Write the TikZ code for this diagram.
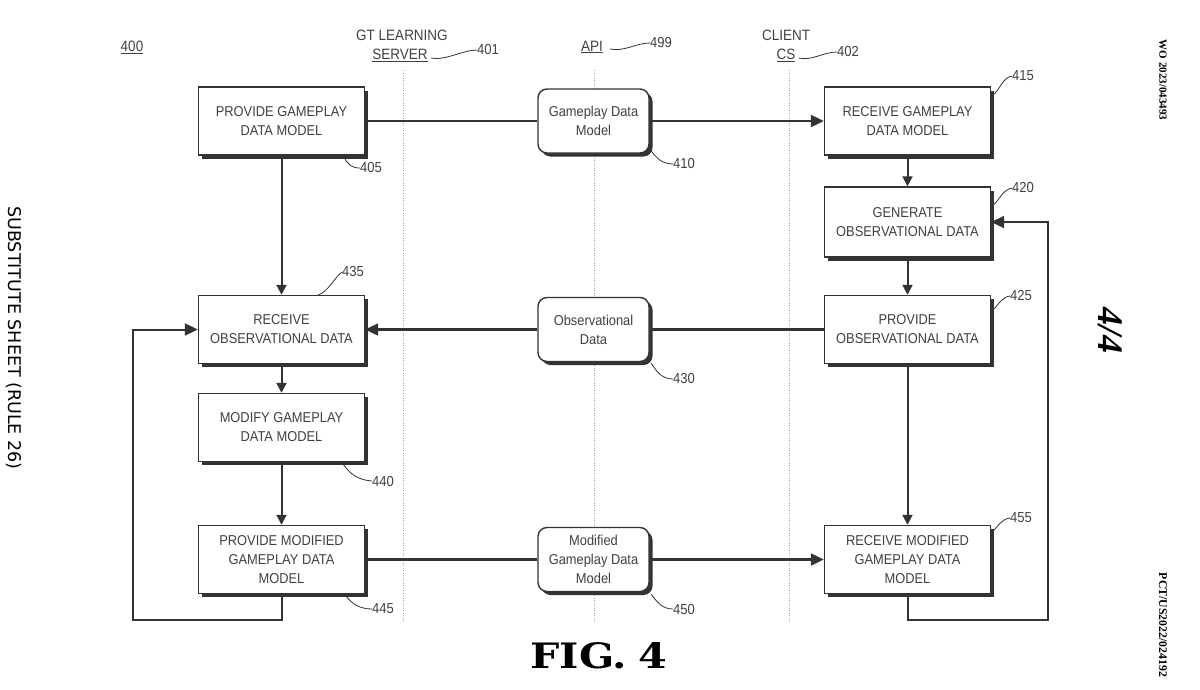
\documentclass[tikz,border=0pt]{standalone}
\usepackage{fontspec}
\setmainfont{Liberation Sans}[FakeStretch=0.9]
\newfontfamily\figfont{DejaVu Serif}[FakeStretch=1.18]
\newfontfamily\sidefont{DejaVu Sans}
\newfontfamily\pubfont{Liberation Serif}
\usetikzlibrary{arrows.meta,shadows}
\definecolor{ink}{HTML}{333333}
\definecolor{txt}{HTML}{404040}
\tikzset{
  every node/.style={text=txt},
  boxfont/.style={font=\fontsize{14.3}{19}\selectfont},
  procbox/.style={draw=ink, line width=1.4pt, fill=white, minimum width=166pt,
    minimum height=68pt, align=center, boxfont,
    drop shadow={shadow xshift=3.5pt, shadow yshift=-3.5pt, fill=ink, opacity=1}},
  apibox/.style={procbox, rounded corners=9pt, minimum width=111pt, minimum height=64pt},
  conn/.style={draw=ink, line width=2.2pt},
  harrow/.style={conn, -{Triangle[length=13pt,width=12pt]}},
  varrow/.style={conn, line width=2pt, -{Triangle[length=10pt,width=10pt]}},
  loopline/.style={draw=ink, line width=2pt},
  lane/.style={draw=gray!70, line width=0.6pt, dash pattern=on 1pt off 1.5pt},
  lead/.style={draw=ink, line width=0.8pt},
  reflabel/.style={font=\fontsize{14.5}{16}\selectfont, inner sep=0pt, anchor=west},
  headlabel/.style={font=\fontsize{15}{17}\selectfont, inner sep=0pt},
}
\begin{document}
\begin{tikzpicture}[x=1pt,y=-1pt]
\useasboundingbox (0,0) rectangle (1200,689);

% lanes
\coordinate (l1t) at (403,70); \coordinate (l1b) at (403,622);
\coordinate (l2t) at (594,70); \coordinate (l2b) at (594,622);
\coordinate (l3t) at (789,70); \coordinate (l3b) at (789,622);
\draw[lane] (l1t) -- (l1b);
\draw[lane] (l2t) -- (l2b);
\draw[lane] (l3t) -- (l3b);

% header
\node[headlabel] (h400) at (132,47) {\underline{400}};
\node[headlabel] (hgt) at (402,35) {GT LEARNING};
\node[headlabel] (hsrv) at (400,55) {\underline{SERVER}};
\node[reflabel] (h401) at (477,50) {401};
\draw[lead] (hsrv.east) ++(3,3) .. controls +(14,3) and +(-14,0) .. (h401.west);
\node[headlabel] (hapi) at (592,47) {\underline{API}};
\node[reflabel] (h499) at (650,43) {499};
\draw[lead] (hapi.east) ++(7,2) .. controls +(14,3) and +(-14,0) .. (h499.west);
\node[headlabel] (hcl) at (786,35) {CLIENT};
\node[headlabel] (hcs) at (786,55) {\underline{CS}};
\node[reflabel] (h402) at (837,52) {402};
\draw[lead] (hcs.east) ++(3,3) .. controls +(14,3) and +(-14,0) .. (h402.west);

% boxes
\node[procbox] (b405) at (281.5,121) {PROVIDE GAMEPLAY\\DATA MODEL};
\node[apibox]  (b410) at (593.5,121) {Gameplay Data\\Model};
\node[procbox] (b415) at (907.5,121) {RECEIVE GAMEPLAY\\DATA MODEL};
\node[procbox, minimum height=70pt] (b420) at (907.5,222) {GENERATE\\OBSERVATIONAL DATA};
\node[procbox] (b435) at (281.5,329.5) {RECEIVE\\OBSERVATIONAL DATA};
\node[apibox]  (b430) at (593.5,329.5) {Observational\\Data};
\node[procbox] (b425) at (907.5,329.5) {PROVIDE\\OBSERVATIONAL DATA};
\node[procbox] (b440) at (281.5,427.5) {MODIFY GAMEPLAY\\DATA MODEL};
\node[procbox] (b445) at (281.5,559.5) {PROVIDE MODIFIED\\GAMEPLAY DATA\\MODEL};
\node[apibox]  (b450) at (593.5,559.5) {Modified\\Gameplay Data\\Model};
\node[procbox] (b455) at (907.5,559.5) {RECEIVE MODIFIED\\GAMEPLAY DATA\\MODEL};

% horizontal connectors
\draw[conn] (b405) -- (b410);
\draw[harrow] (b410) -- (b415);
\draw[conn] (b425) -- (b430);
\draw[harrow] (b430) -- (b435);
\draw[conn] (b445) -- (b450);
\draw[harrow] (b450) -- (b455);

% vertical connectors
\draw[varrow] (b405) -- (b435);
\draw[varrow] (b435) -- (b440);
\draw[varrow] (b440) -- (b445);
\draw[varrow] (b415) -- (b420);
\draw[varrow] (b420) -- (b425);
\draw[varrow] (b425) -- (b455);

% feedback loops
\coordinate (rb) at (1048,620);
\coordinate (lb) at (133,620);
\draw[loopline, -{Triangle[length=13pt,width=12pt]}] (b455.south) |- (rb) |- (b420.east);
\draw[loopline, -{Triangle[length=13pt,width=12pt]}] (b445.south) |- (lb) |- (b435.west);

% reference labels with leaders
\node[reflabel] (r405) at (360,168) {405};
\draw[lead] (344,157) .. controls (348,165) and (352,168) .. (r405.west);
\node[reflabel] (r410) at (673,164) {410};
\draw[lead] (650,149) .. controls (656,158) and (662,164) .. (r410.west);
\node[reflabel] (r415) at (1012,76) {415};
\draw[lead] (993,95) .. controls (1000,90) and (1002,78) .. (r415.west);
\node[reflabel] (r420) at (1012,188) {420};
\draw[lead] (993,205) .. controls (1000,200) and (1002,190) .. (r420.west);
\node[reflabel] (r425) at (1010,296) {425};
\draw[lead] (993,310) .. controls (999,304) and (1002,297) .. (r425.west);
\node[reflabel] (r430) at (673,379) {430};
\draw[lead] (651,363) .. controls (657,372) and (662,379) .. (r430.west);
\node[reflabel] (r435) at (342,272) {435};
\draw[lead] (318,295) .. controls (328,292) and (334,278) .. (r435.west);
\node[reflabel] (r440) at (372,481) {440};
\draw[lead] (343,464) .. controls (350,474) and (358,480) .. (r440.west);
\node[reflabel] (r445) at (372,609) {445};
\draw[lead] (346,596) .. controls (352,604) and (360,609) .. (r445.west);
\node[reflabel] (r450) at (673,609) {450};
\draw[lead] (651,594) .. controls (657,602) and (662,609) .. (r450.west);
\node[reflabel] (r455) at (1010,518) {455};
\draw[lead] (993,531) .. controls (999,525) and (1002,519) .. (r455.west);

% page furniture
\node[font=\figfont\bfseries\fontsize{35}{40}\selectfont, text=black] (fig) at (599,656) {FIG.\,\,4};
\node[font=\pubfont\itshape\bfseries\fontsize{36}{38}\selectfont, text=black, rotate=-90] (pg) at (1110,330) {4/4};
\node[font=\pubfont\bfseries\fontsize{11}{13}\selectfont, text=black, rotate=-90] (wo) at (1163,80) {WO 2023/043493};
\node[font=\pubfont\bfseries\fontsize{11.8}{13}\selectfont, text=black, rotate=-90] (pct) at (1163,625) {PCT/US2022/024192};
\node[font=\sidefont\fontsize{17.5}{19}\selectfont, text=black, rotate=-90] (sub) at (14,338) {SUBSTITUTE SHEET (RULE 26)};
\end{tikzpicture}
\end{document}
